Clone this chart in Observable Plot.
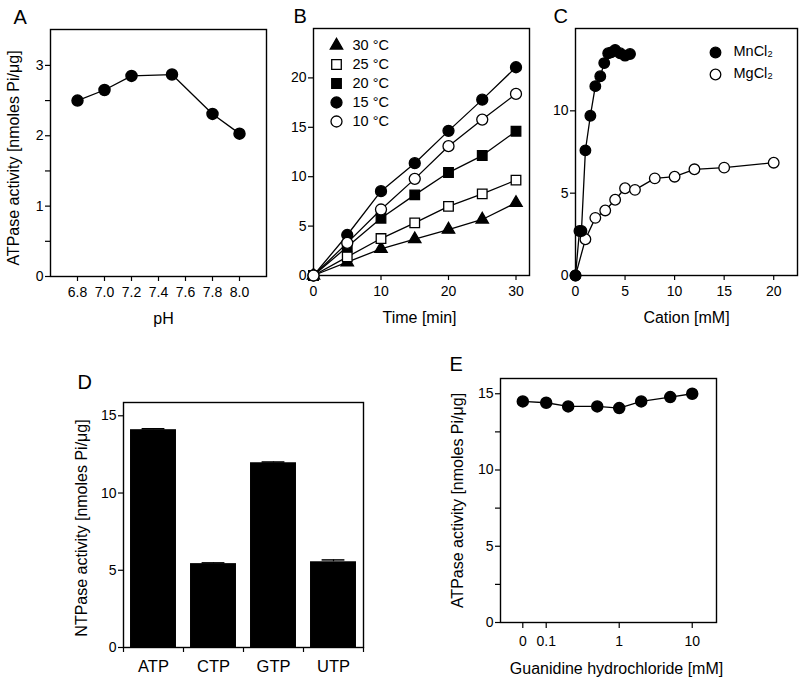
<!DOCTYPE html>
<html><head><meta charset="utf-8">
<script src="https://cdn.jsdelivr.net/npm/d3@7"></script>
<script src="https://cdn.jsdelivr.net/npm/@observablehq/plot@0.6"></script>
<style>
html,body{margin:0;padding:0;background:#fff;}
#fig{position:relative;width:800px;height:681px;overflow:hidden;background:#fff;}
#fig svg{position:absolute;}
</style></head><body><div id="fig"></div>
<script>
// ---------- Panel A: pH ----------
const pHValues = [6.8, 7.0, 7.2, 7.5, 7.8, 8.0];
const pHActivity = [2.50, 2.65, 2.85, 2.87, 2.31, 2.03];
const pHTicks = [6.8, 7.0, 7.2, 7.4, 7.6, 7.8, 8.0];
const aYTicks = [0, 1, 2, 3];
const aYMinor = [0.5, 1.5, 2.5];

// ---------- Panel B: time course ----------
const timeMin = [0, 5, 10, 15, 20, 25, 30];
const tempLabels = ["30 °C", "25 °C", "20 °C", "15 °C", "10 °C"];
const act30 = [0, 1.35, 2.70, 3.68, 4.65, 5.67, 7.35];
const act25 = [0, 1.88, 3.74, 5.33, 7.00, 8.26, 9.65];
const act20 = [0, 2.90, 5.80, 8.16, 10.42, 12.14, 14.60];
const act15 = [0, 4.10, 8.53, 11.37, 14.64, 17.80, 21.08];
const act10 = [0, 3.30, 6.68, 9.78, 13.09, 15.78, 18.38];
const bXTicks = [0, 10, 20, 30];
const bYTicks = [0, 5, 10, 15, 20];

// ---------- Panel C: cation ----------
const cationLabels = ["MnCl₂", "MgCl₂"];
const mnConc = [0, 0.4, 0.6, 1.0, 1.5, 2.0, 2.5, 2.9, 3.3, 3.6, 4.0, 4.5, 5.0, 5.5];
const mnActivity = [0, 2.7, 2.7, 7.6, 9.7, 11.5, 12.1, 12.9, 13.5, 13.55, 13.7, 13.5, 13.35, 13.45];
const mgConc = [0, 1, 2, 3, 4, 5, 6, 8, 10, 12, 15, 20];
const mgActivity = [0, 2.2, 3.5, 3.95, 4.6, 5.3, 5.2, 5.9, 6.0, 6.45, 6.55, 6.85];
const cXTicks = [0, 5, 10, 15, 20];
const cYTicks = [0, 5, 10];

// ---------- Panel D: NTPs ----------
const ntpNames = ["ATP", "CTP", "GTP", "UTP"];
const ntpActivity = [14.1, 5.43, 11.96, 5.55];
const ntpError = [0.06, 0.05, 0.05, 0.12];
const dYTicks = [0, 5, 10, 15];

// ---------- Panel E: guanidine ----------
const guanConc = [0, 0.1, 0.2, 0.5, 1, 2, 5, 10];
const guanActivity = [14.5, 14.41, 14.17, 14.17, 14.06, 14.5, 14.78, 15.0];
const eXTicks = [0, 0.1, 1, 10];
const eXTickLabels = ["0", "0.1", "1", "10"];
const eYTicks = [0, 5, 10, 15];
const eYMinor = [2.5, 7.5, 12.5];

// ---------- layout / style ----------
const FONT = '"Liberation Sans", Arial, Helvetica, sans-serif';
const TICK_FS = 14, TITLE_FS = 16, LETTER_FS = 20, LEG_FS = 14.5;
const container = document.getElementById("fig");
const baseStyle = {fontFamily: FONT, fontSize: TICK_FS + "px", color: "black", background: "transparent", overflow: "visible"};
function place(svg, left, top) { svg.style.left = left + "px"; svg.style.top = top + "px"; container.appendChild(svg); }
const frame = () => Plot.frame({stroke: "black", strokeWidth: 1.4});
const yAxis = (ticks) => Plot.axisY({ticks, tickFormat: d => String(d), tickSize: 5, tickPadding: 2, fontSize: TICK_FS, label: null, strokeWidth: 1.2});
const yMinor = (ticks) => Plot.axisY({ticks, tickSize: 5, tickFormat: () => "", label: null, strokeWidth: 1.2});
const xAxis = (ticks, fmt, size = 5, pad = 6) => Plot.axisX({ticks, tickFormat: fmt, tickSize: size, tickPadding: pad, fontSize: TICK_FS, label: null, strokeWidth: 1.2});
const letter = (t, dx, dy) => Plot.text([t], {frameAnchor: "top-left", dx, dy, textAnchor: "start", lineAnchor: "bottom", fontSize: LETTER_FS});
const xTitle = (t, dy, dx = 0) => Plot.text([t], {frameAnchor: "bottom", dx, dy, textAnchor: "middle", lineAnchor: "bottom", fontSize: TITLE_FS});
const yTitle = (t, dx, dy = 0) => Plot.text([t], {frameAnchor: "left", rotate: -90, dx, dy, textAnchor: "middle", lineAnchor: "top", fontSize: TITLE_FS});
const LW = 1.3;

// ---------- A ----------
const aData = pHValues.map((x, i) => ({x, y: pHActivity[i]}));
place(Plot.plot({
  width: 275, height: 335, marginLeft: 50, marginRight: 9, marginTop: 29, marginBottom: 59,
  style: baseStyle,
  x: {domain: [6.6, 8.2]},
  y: {domain: [0, 3.51]},
  marks: [
    frame(),
    xAxis(pHTicks, d => d.toFixed(1)),
    yAxis(aYTicks), yMinor(aYMinor),
    Plot.line(aData, {x: "x", y: "y", stroke: "black", strokeWidth: LW}),
    Plot.dot(aData, {x: "x", y: "y", r: 5.5, fill: "black", stroke: "black"}),
    xTitle("pH", 47, 5),
    yTitle("ATPase activity [nmoles Pi/μg]", -43, 5),
    letter("A", -37, -6)
  ]
}), 0, 0);

// ---------- B ----------
const bValues = [act30, act25, act20, act15, act10];
const bStyle = [
  {symbol: "triangle", fill: "black", r: 4.6},
  {symbol: "square", fill: "white", r: 5.4},
  {symbol: "square", fill: "black", r: 5.4},
  {symbol: "circle", fill: "black", r: 5.5},
  {symbol: "circle", fill: "white", r: 5.5}
];
const bSeries = tempLabels.map((label, k) => ({label, k, pts: timeMin.map((t, i) => ({t, v: bValues[k][i]}))}));
const bMarks = [frame(), xAxis(bXTicks, d => String(d)), yAxis(bYTicks)];
for (const s of bSeries) bMarks.push(Plot.line(s.pts, {x: "t", y: "v", stroke: "black", strokeWidth: LW}));
for (const s of bSeries) {
  const st = bStyle[s.k];
  bMarks.push(Plot.dot(s.pts, {x: "t", y: "v", symbol: st.symbol, r: st.r, fill: st.fill, stroke: "black", strokeWidth: 1.3}));
}
for (const s of bSeries) {
  const st = bStyle[s.k];
  bMarks.push(Plot.dot([s], {frameAnchor: "top-left", dx: 23, dy: 17 + s.k * 19, symbol: st.symbol, r: st.r, fill: st.fill, stroke: "black", strokeWidth: 1.3}));
  bMarks.push(Plot.text([s.label], {frameAnchor: "top-left", dx: 39, dy: 17 + s.k * 19, textAnchor: "start", lineAnchor: "middle", fontSize: LEG_FS}));
}
bMarks.push(xTitle("Time [min]", 47, -2), letter("B", -20, -6));
place(Plot.plot({
  width: 260, height: 335, marginLeft: 33, marginRight: 11, marginTop: 28, marginBottom: 60,
  style: baseStyle,
  x: {domain: [0, 32]},
  y: {domain: [0, 25]},
  marks: bMarks
}), 280, 0);

// ---------- C ----------
const cSeries = [
  {label: cationLabels[0], k: 0, pts: mnConc.map((c, i) => ({c, v: mnActivity[i]})), fill: "black"},
  {label: cationLabels[1], k: 1, pts: mgConc.map((c, i) => ({c, v: mgActivity[i]})), fill: "white"}
];
const cMarks = [frame(), xAxis(cXTicks, d => String(d)), yAxis(cYTicks)];
for (const s of cSeries.slice().reverse()) {
  cMarks.push(Plot.line(s.pts, {x: "c", y: "v", stroke: "black", strokeWidth: LW}));
  cMarks.push(Plot.dot(s.pts, {x: "c", y: "v", r: 5.3, fill: s.fill, stroke: "black", strokeWidth: 1.3}));
}
for (const s of cSeries) {
  cMarks.push(Plot.dot([s], {frameAnchor: "top-left", dx: 140, dy: 24 + s.k * 22, r: 5.3, fill: s.fill, stroke: "black", strokeWidth: 1.3}));
  cMarks.push(Plot.text([s.label], {frameAnchor: "top-left", dx: 158, dy: 23 + s.k * 22, textAnchor: "start", lineAnchor: "middle", fontSize: LEG_FS}));
}
cMarks.push(xTitle("Cation [mM]", 47, 0), letter("C", -22, -6));
place(Plot.plot({
  width: 255, height: 335, marginLeft: 30, marginRight: 3, marginTop: 28, marginBottom: 60,
  style: baseStyle,
  x: {domain: [0, 22.4]},
  y: {domain: [0, 15]},
  marks: cMarks
}), 545, 0);

// ---------- D ----------
const dData = ntpNames.map((name, i) => ({name, i, v: ntpActivity[i], e: ntpError[i]}));
place(Plot.plot({
  width: 400, height: 341, marginLeft: 123, marginRight: 37, marginTop: 62, marginBottom: 34,
  style: baseStyle,
  x: {domain: [0, ntpNames.length]},
  y: {domain: [0, 15.86]},
  marks: [
    Plot.rect(dData, {x1: d => d.i + 0.117, x2: d => d.i + 0.883, y1: 0, y2: "v", fill: "black"}),
    Plot.ruleX(dData, {x: d => d.i + 0.5, y1: "v", y2: d => d.v + d.e, stroke: "black", strokeWidth: 1.2}),
    Plot.ruleY(dData, {y: d => d.v + d.e, x1: d => d.i + 0.31, x2: d => d.i + 0.69, stroke: "black", strokeWidth: 1.5}),
    frame(),
    Plot.axisX({ticks: d3.range(ntpNames.length + 1), tickFormat: () => "", tickSize: 5, label: null, strokeWidth: 1.2}),
    Plot.axisX({ticks: ntpNames.map((n, i) => i + 0.5), tickFormat: v => ntpNames[Math.floor(v)], tickSize: 0, tickPadding: 13, fontSize: 16.5, label: null}),
    yAxis(dYTicks),
    yTitle("NTPase activity [nmoles Pi/μg]", -48, 3),
    letter("D", -46, -14)
  ]
}), 0, 340);

// ---------- E ----------
// x is drawn on a log10 axis; the "0" concentration sits at log10(0.0478), as in the original figure
const E_ZERO_LOG = Math.log10(0.0478);
const eLog = c => (c === 0 ? E_ZERO_LOG : Math.log10(c));
const eData = guanConc.map((c, i) => ({x: eLog(c), v: guanActivity[i]}));
const eTickPos = eXTicks.map(eLog);
place(Plot.plot({
  width: 400, height: 341, marginLeft: 100, marginRight: 84, marginTop: 38, marginBottom: 59,
  style: baseStyle,
  x: {domain: [Math.log10(0.02366), Math.log10(21.5)]},
  y: {domain: [0, 16]},
  marks: [
    frame(),
    xAxis(eTickPos, d => eXTickLabels[eTickPos.indexOf(d)], 6, 8),
    yAxis(eYTicks), yMinor(eYMinor),
    Plot.line(eData, {x: "x", y: "v", stroke: "black", strokeWidth: LW}),
    Plot.dot(eData, {x: "x", y: "v", r: 5.5, fill: "black", stroke: "black"}),
    xTitle("Guanidine hydrochloride [mM]", 51, 8),
    yTitle("ATPase activity [nmoles Pi/μg]", -49, 0),
    letter("E", -51, -8)
  ]
}), 400, 340);
</script></body></html>
